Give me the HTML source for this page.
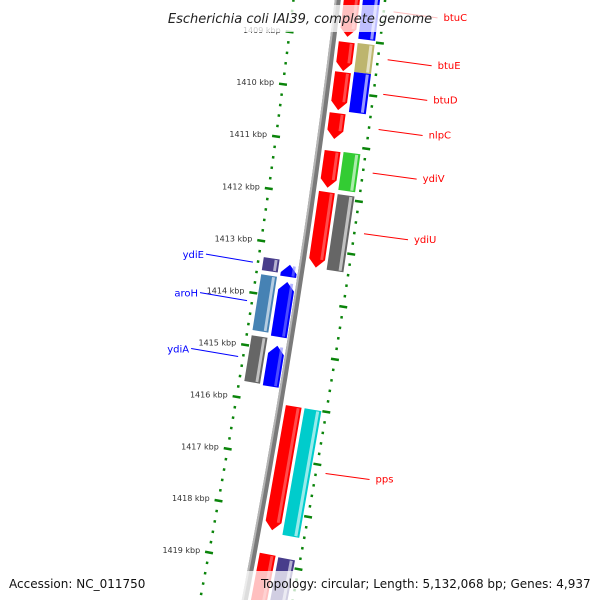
<!DOCTYPE html>
<html><head><meta charset="utf-8"><style>
html,body{margin:0;padding:0;background:#fff;overflow:hidden;width:600px;height:600px}
svg{display:block;font-family:"DejaVu Sans","Liberation Sans",sans-serif;overflow:hidden}
</style></head><body>
<svg id="map" width="600" height="600" viewBox="0 0 600 600">
<defs><clipPath id="frame"><rect width="600" height="600"/></clipPath></defs>
<rect width="600" height="600" fill="#fff"/>
<g clip-path="url(#frame)">
<g id="ticks"></g>
<g id="backbone"></g>
<g id="features"></g>
<g id="labels"></g>
</g>
<rect x="158" y="5" width="284" height="27" fill="#fff" opacity="0.75"/>
<text x="300" y="23" text-anchor="middle" font-size="13" font-style="italic" fill="#222">Escherichia coli IAI39, complete genome</text>
<text x="9" y="588" font-size="12" fill="#111">Accession: NC_011750</text>
<rect x="224" y="571" width="376" height="29" fill="#fff" opacity="0.75"/>
<text x="261" y="588" font-size="12" fill="#111">Topology: circular; Length: 5,132,068 bp; Genes: 4,937</text>
</svg>
<script>
// data (kbp)
const rightInnerStart=[1407.9,1409.06,1409.63,1410.41,1411.13,1411.91,1416.0,1418.83];
const rightInnerEnd=[1408.96,1409.61,1410.35,1410.9,1411.83,1413.35,1418.37,1419.9];
const rightInnerNames=["btuC","btuE","btuD","nlpC","ydiV","ydiU","pps",""];
const rightOuterStart=[1407.9,1409.05,1409.6,1411.12,1411.92,1416.0,1418.85];
const rightOuterEnd=[1408.97,1409.6,1410.36,1411.84,1413.36,1418.42,1419.9];
const rightOuterColors=["#0000ff","#bdb56e","#0000ff","#33cc33","#666666","#00cccc","#483d8b"];
const leftInnerStart=[1413.37,1413.7,1414.92];
const leftInnerEnd=[1413.6,1414.75,1415.7];
const leftOuterStart=[1413.3,1413.63,1414.8];
const leftOuterEnd=[1413.55,1414.7,1415.68];
const leftOuterColors=["#483d8b","#4682b4","#666666"];
const leftNames=["ydiE","aroH","ydiA"];
const tickKbp=[1409,1410,1411,1412,1413,1414,1415,1416,1417,1418,1419];

const NS="http://www.w3.org/2000/svg";
const CX=-8203,CY=-1016;
function phi(k){return 0.1474+(k-1413)*0.006157;}
function pt(r,k){const a=phi(k);return [CX+r*Math.cos(a),CY+r*Math.sin(a)];}
function mk(tag,attrs,parent){const e=document.createElementNS(NS,tag);for(const k in attrs)e.setAttribute(k,attrs[k]);parent.appendChild(e);return e;}
function poly(pts){return pts.map(p=>p[0].toFixed(1)+","+p[1].toFixed(1)).join(" ");}
const gT=document.getElementById("ticks"),gB=document.getElementById("backbone"),gF=document.getElementById("features"),gL=document.getElementById("labels");

function arcPath(r){let d="";for(let k=1407.5;k<=1420.5;k+=0.25){const p=pt(r,k);d+=(d?"L":"M")+p[0].toFixed(1)+","+p[1].toFixed(1);}return d;}
let b=mk("path",{d:arcPath(8601),stroke:"#7a7a7a","stroke-width":6,fill:"none"},gB);


b=mk("path",{d:arcPath(8599),stroke:"#b5b5b5","stroke-width":2,fill:"none"},gB);



const IR=8557,OR=8648;
for(let i=0;i<=65;i++){
  const k=1407+i*0.2;const major=Math.abs(k-Math.round(k))<0.01;
  [IR,OR].forEach(r=>{
    const len=major?8:2.5;const p1=pt(r-len/2,k),p2=pt(r+len/2,k);
    const l=mk("line",{x1:p1[0],y1:p1[1],x2:p2[0],y2:p2[1],stroke:"#0a840a","stroke-width":2.5},gT);
    
    
  });
}
tickKbp.forEach(k=>{
  const p=pt(IR-9,k);
  const t=mk("text",{x:p[0],y:p[1]+2,"text-anchor":"end","font-size":"8",fill:"#333"},gT);
  t.textContent=k+" kbp";
  
  
});

function feature(k1,k2,r1,r2,color,light,arrow,name){
  const g=mk("g",{},gF);
  
  
  const al=0.16,rm=(r1+r2)/2;let pts;
  if(arrow==="down"){const kb=k2-al;pts=[pt(r1,k1),pt(r2,k1),pt(r2,kb),pt(rm,k2),pt(r1,kb)];}
  else if(arrow==="up"){const kb=k1+al;pts=[pt(rm,k1),pt(r2,kb),pt(r2,k2),pt(r1,k2),pt(r1,kb)];}
  else pts=[pt(r1,k1),pt(r2,k1),pt(r2,k2),pt(r1,k2)];
  mk("polygon",{points:poly(pts),fill:color},g);
  const w=r2-r1;
  const s=[pt(r2-w*0.3,k1+0.02),pt(r2-w*0.12,k1+0.02),pt(r2-w*0.12,k2-(arrow==="down"?al:0.02)),pt(r2-w*0.3,k2-(arrow==="down"?al:0.02))];
  mk("polygon",{points:poly(s),fill:light,opacity:0.6},g);
  return g;
}
rightInnerStart.forEach((s,i)=>feature(s,rightInnerEnd[i],8607,8623,"#ff0000","#ff8080","down","gene-"+(rightInnerNames[i]||"unnamed")));
rightOuterStart.forEach((s,i)=>feature(s,rightOuterEnd[i],8626,8643,rightOuterColors[i],"#ffffff","none","cog-block"));
leftInnerStart.forEach((s,i)=>feature(s,leftInnerEnd[i],8581,8597,"#0000ff","#8080ff","up","gene-"+leftNames[i]));
leftOuterStart.forEach((s,i)=>feature(s,leftOuterEnd[i],8562,8578,leftOuterColors[i],"#ffffff","none","cog-block-"+leftNames[i]));

rightInnerNames.forEach((n,i)=>{
  if(!n)return;
  const k=(rightInnerStart[i]+rightInnerEnd[i])/2;const p=pt(8656,k);
  const l=mk("line",{x1:p[0]+2,y1:p[1]-2,x2:p[0]+46,y2:p[1]+4,stroke:"#ff0000","stroke-width":1},gL);
  
  
  const t=mk("text",{x:p[0]+52,y:p[1]+7,"font-size":"10",fill:"#ff0000"},gL);
  t.textContent=n;
  
  
});
leftNames.forEach((n,i)=>{
  const k=(leftOuterStart[i]+leftOuterEnd[i])/2;const p=pt(8552,k);
  const l=mk("line",{x1:p[0],y1:p[1],x2:p[0]-47,y2:p[1]-8,stroke:"#0000ff","stroke-width":1},gL);
  
  
  const t=mk("text",{x:p[0]-49,y:p[1]-4,"text-anchor":"end","font-size":"10",fill:"#0000ff"},gL);
  t.textContent=n;
  
  
});
</script>
</body></html>
